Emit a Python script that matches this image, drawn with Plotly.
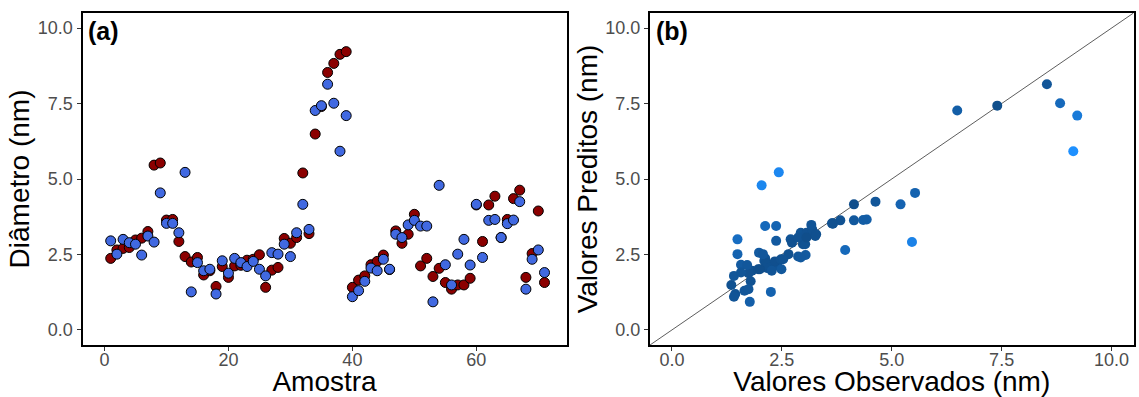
import plotly.graph_objects as go
import numpy as np

amostra = list(range(1, 72))
observado = [2.37, 2.65, 2.70, 2.73, 2.98, 3.04, 3.26, 5.46, 5.53, 3.64,
             3.66, 2.93, 2.43, 2.25, 2.40, 1.82, 1.96, 1.44, 2.10, 1.74,
             2.12, 2.14, 2.31, 2.34, 2.49, 1.41, 1.98, 2.07, 3.03, 2.87,
             3.06, 5.20, 3.19, 6.49, 7.40, 8.53, 8.83, 9.13, 9.22, 1.41,
             1.65, 1.79, 2.16, 2.27, 2.48, 2.00, 3.28, 2.87, 3.17, 3.83,
             2.12, 2.37, 1.77, 2.04, 1.57, 1.35, 1.49, 1.49, 1.71, 4.14,
             2.93, 4.14, 4.43, 3.06, 3.66, 4.35, 4.63, 1.74, 2.53, 3.94,
             1.57]
predito = [2.95, 2.51, 3.00, 2.89, 2.84, 2.48, 3.11, 2.91, 4.54, 3.53,
           3.53, 3.22, 5.22, 1.26, 2.23, 1.96, 2.01, 1.19, 2.29, 1.88,
           2.37, 2.23, 2.10, 2.27, 2.01, 1.79, 2.56, 2.51, 2.84, 2.43,
           3.22, 4.16, 3.33, 7.27, 7.43, 8.14, 7.51, 5.92, 7.10, 1.10,
           1.30, 1.61, 2.05, 1.96, 2.34, 2.01, 3.17, 3.06, 3.48, 3.63,
           3.44, 3.44, 0.93, 4.79, 2.16, 1.49, 2.51, 3.00, 2.15, 4.16,
           2.40, 3.63, 3.66, 3.06, 3.52, 3.64, 4.25, 1.35, 2.34, 2.65,
           1.90]

x_ticks_a = [0, 20, 40, 60]
xy_ticks = [0.0, 2.5, 5.0, 7.5, 10.0]
xy_tick_text = ["0.0", "2.5", "5.0", "7.5", "10.0"]
range_a_x = [-3.55, 74.55]
range_xy = [-0.5, 10.5]

erro = np.abs(np.array(predito) - np.array(observado))

fig = go.Figure()

fig.add_trace(go.Scatter(
    x=amostra, y=observado, mode="markers", xaxis="x", yaxis="y",
    marker=dict(size=10, color="#8B0000", line=dict(color="black", width=1)),
    showlegend=False, hoverinfo="skip"))
fig.add_trace(go.Scatter(
    x=amostra, y=predito, mode="markers", xaxis="x", yaxis="y",
    marker=dict(size=10, color="#4169E1", line=dict(color="black", width=1)),
    showlegend=False, hoverinfo="skip"))

fig.add_trace(go.Scatter(
    x=range_xy, y=range_xy, mode="lines", xaxis="x2", yaxis="y2",
    line=dict(color="#333333", width=0.8), showlegend=False, hoverinfo="skip"))
fig.add_trace(go.Scatter(
    x=observado, y=predito, mode="markers", xaxis="x2", yaxis="y2",
    marker=dict(size=10, color=erro, cmin=float(erro.min()), cmax=float(erro.max()),
                colorscale=[[0, "#104E8B"], [1, "#1E90FF"]], showscale=False),
    showlegend=False, hoverinfo="skip"))

FONT = "Liberation Sans, Arial, sans-serif"
tickfont = dict(family=FONT, size=18, color="#4D4D4D")
titlefont = dict(family=FONT, size=28, color="black")
common = dict(showgrid=False, zeroline=False, showline=True, linecolor="black",
              linewidth=2, mirror=True, ticks="outside", ticklen=4, tickwidth=1,
              tickcolor="#333333", tickfont=tickfont, automargin=False)

W, H = 1139, 397
fig.update_layout(
    width=W, height=H,
    margin=dict(l=0, r=0, t=0, b=0, autoexpand=False),
    paper_bgcolor="white", plot_bgcolor="white",
    xaxis=dict(domain=[82.5/W, 566.5/W], range=range_a_x, tickvals=x_ticks_a,
               ticklabelstandoff=-7,
               title=dict(text="Amostra", font=titlefont, standoff=0), anchor="y", **common),
    yaxis=dict(domain=[52/H, 384/H], range=range_xy, tickvals=xy_ticks,
               ticktext=xy_tick_text,
               title=dict(text="Diâmetro (nm)", font=titlefont, standoff=0), anchor="x", **common),
    xaxis2=dict(domain=[650/W, 1133.5/W], range=range_xy, tickvals=xy_ticks,
                ticktext=xy_tick_text, ticklabelstandoff=-7,
                title=dict(text="Valores Observados (nm)", font=titlefont, standoff=0),
                anchor="y2", **common),
    yaxis2=dict(domain=[52/H, 384/H], range=range_xy, tickvals=xy_ticks,
                ticktext=xy_tick_text,
                title=dict(text="Valores Preditos (nm)", font=titlefont, standoff=0),
                anchor="x2", **common),
    annotations=[
        dict(text="<b>(a)</b>", xref="x domain", yref="y domain", x=0.008, y=0.995,
             xanchor="left", yanchor="top", showarrow=False,
             font=dict(family=FONT, size=25, color="black")),
        dict(text="<b>(b)</b>", xref="x2 domain", yref="y2 domain", x=0.008, y=0.995,
             xanchor="left", yanchor="top", showarrow=False,
             font=dict(family=FONT, size=25, color="black")),
    ],
)

fig.write_html("out.html", config={"displayModeBar": False},
               post_script="document.body.style.margin='0';document.body.style.overflow='hidden';")
